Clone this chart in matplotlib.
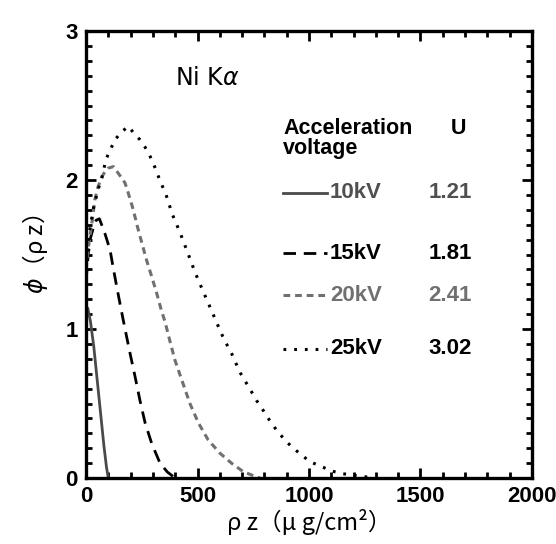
import numpy as np
import matplotlib
matplotlib.use('Agg')
import matplotlib.pyplot as plt
from matplotlib.ticker import MultipleLocator

# data
x10 = [0, 8, 20, 35, 50, 65, 80, 92, 100]
y10 = [1.10, 1.14, 1.05, 0.88, 0.66, 0.44, 0.22, 0.07, 0.0]

x15 = [0, 10, 20, 33, 45, 60, 85, 108, 122, 137, 155, 175, 197, 220, 242, 265, 295, 332, 365, 400]
y15 = [1.32, 1.50, 1.61, 1.68, 1.73, 1.74, 1.64, 1.53, 1.41, 1.29, 1.15, 1.0, 0.84, 0.68, 0.52, 0.37, 0.23, 0.099, 0.04, 0.0]

x20 = [0, 15, 30, 40, 55, 78, 100, 123, 152, 175, 190, 212, 230, 250, 272, 295, 317, 339, 354, 377,
       399, 429, 466, 504, 548, 601, 653, 705, 743, 780]
y20 = [1.40, 1.60, 1.75, 1.87, 1.96, 2.04, 2.08, 2.09, 2.03, 1.98, 1.91, 1.80, 1.69, 1.58, 1.46, 1.35,
       1.24, 1.12, 1.05, 0.915, 0.79, 0.66, 0.50, 0.37, 0.255, 0.166, 0.099, 0.043, 0.02, 0.0]

x25 = [0, 15, 33, 45, 55, 70, 90, 111, 130, 157, 190, 217, 242, 265, 287, 305, 336, 357, 387, 421,
       454, 489, 526, 564, 604, 626, 649, 690, 738, 765, 792, 822, 855, 892, 922, 967, 1004, 1057,
       1102, 1147, 1191, 1244, 1290]
y25 = [1.45, 1.65, 1.81, 1.88, 1.94, 2.01, 2.14, 2.21, 2.27, 2.32, 2.36, 2.31, 2.27, 2.22, 2.16, 2.10,
       1.98, 1.91, 1.77, 1.65, 1.52, 1.38, 1.25, 1.12, 0.98, 0.91, 0.85, 0.71, 0.59, 0.52, 0.46, 0.39,
       0.32, 0.255, 0.21, 0.154, 0.11, 0.076, 0.047, 0.03, 0.02, 0.01, 0.0]

voltages = ['10kV', '15kV', '20kV', '25kV']
u_values = ['1.21', '1.81', '2.41', '3.02']

num_font = ['Liberation Sans Narrow', 'Liberation Sans', 'DejaVu Sans']
txt_font = ['Liberation Sans', 'DejaVu Sans']
cjk_font = ['Noto Sans CJK JP', 'DejaVu Sans']

fig = plt.figure(figsize=(5.56, 5.44), dpi=100)
ax = fig.add_axes([0.1547, 0.1213, 0.8021, 0.8217])

styles = [
    dict(color='#4a4a4a', lw=2.0, ls='-'),
    dict(color='black', lw=2.0, ls=(0, (4.5, 2.8))),
    dict(color='#707070', lw=2.2, ls=(0, (2.2, 1.6))),
    dict(color='black', lw=2.2, ls=(0, (0.9, 2.6))),
]
text_colors = ['#505050', 'black', '#707070', 'black']

ax.plot(x10, y10, **styles[0])
ax.plot(x15, y15, **styles[1])
ax.plot(x20, y20, **styles[2])
ax.plot(x25, y25, **styles[3])

ax.set_xlim(0, 2000)
ax.set_ylim(0, 3)
ax.xaxis.set_major_locator(MultipleLocator(500))
ax.xaxis.set_minor_locator(MultipleLocator(100))
ax.yaxis.set_major_locator(MultipleLocator(1))
ax.yaxis.set_minor_locator(MultipleLocator(0.1))
ax.tick_params(which='both', direction='in', top=True, right=True, width=2)
ax.tick_params(which='major', length=7, pad=6)
ax.tick_params(which='minor', length=4.5)
for sp in ax.spines.values():
    sp.set_linewidth(2.4)

for lab in ax.get_xticklabels() + ax.get_yticklabels():
    lab.set_family(num_font)
    lab.set_fontsize(16)
    lab.set_fontweight('bold')

ax.set_xlabel('ρ z（μ g/cm²）', family=cjk_font, fontsize=17, labelpad=1)
ax.set_ylabel(r'$\phi$（ρ z）', family=cjk_font, fontsize=17, labelpad=11)

ax.text(0.2, 0.895, r'Ni K$\alpha$', transform=ax.transAxes, fontsize=17,
        va='center', ha='left')

# legend block
ax.text(0.442, 0.805, 'Acceleration\nvoltage', transform=ax.transAxes, family=txt_font,
        fontsize=15.5, fontweight='bold', va='top', ha='left', linespacing=0.95)
ax.text(0.836, 0.805, 'U', transform=ax.transAxes, family=txt_font,
        fontsize=15.5, fontweight='bold', va='top', ha='center')
rows = [0.638, 0.503, 0.409, 0.289]
for i in range(4):
    ax.plot([0.442, 0.540], [rows[i], rows[i]], transform=ax.transAxes, **styles[i])
    ax.text(0.547, rows[i], voltages[i], transform=ax.transAxes, family=num_font,
            fontsize=16, fontweight='bold', color=text_colors[i], va='center', ha='left')
    ax.text(0.816, rows[i], u_values[i], transform=ax.transAxes, family=num_font,
            fontsize=16, fontweight='bold', color=text_colors[i], va='center', ha='center')

fig.savefig('out.png', dpi=100)
